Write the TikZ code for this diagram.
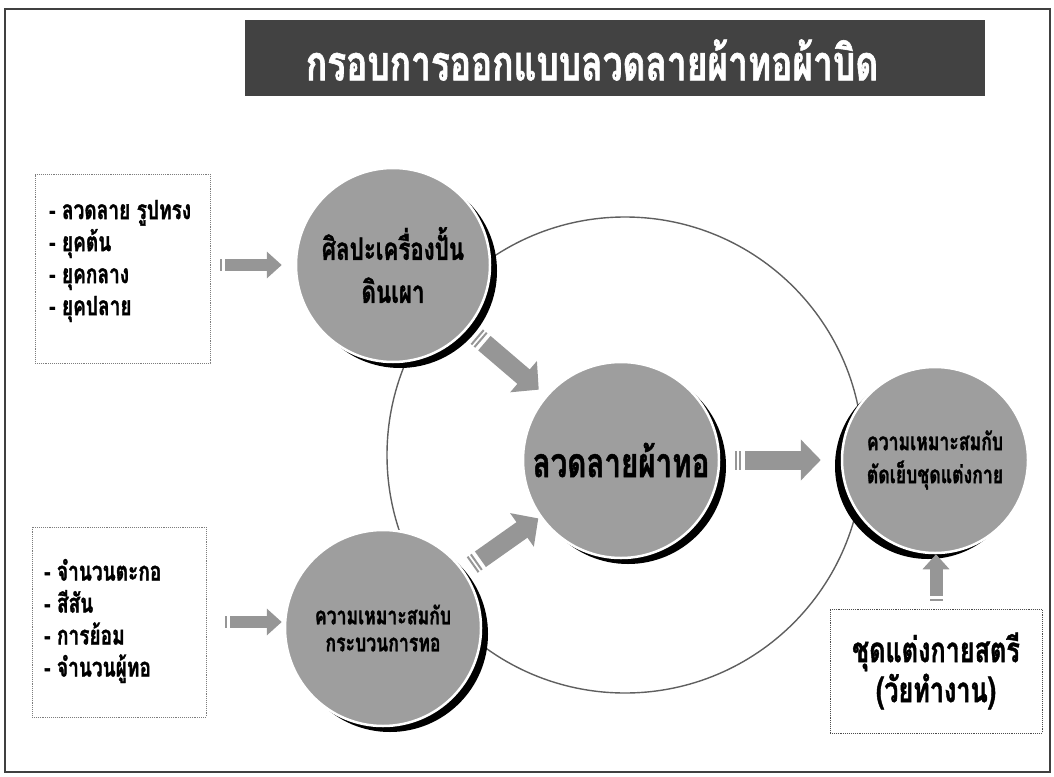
\documentclass[tikz,border=0pt]{standalone}
\usepackage{fontspec}
\newfontfamily\thaifont[Script=Thai,FakeStretch=0.72,BoldFeatures={FakeBold=1.2}]{Loma}
\usetikzlibrary{arrows.meta,shadows}
\definecolor{ballgray}{RGB}{158,158,158}
\definecolor{bargray}{RGB}{66,66,66}
\definecolor{arrowgray}{RGB}{150,150,150}
\definecolor{ringgray}{RGB}{95,95,95}
\definecolor{boxgray}{RGB}{125,125,125}

\begin{document}
\begin{tikzpicture}[x=1pt,y=-1pt,
    ball/.style={circle,fill=ballgray,draw=white,line width=2.5pt,inner sep=0pt,align=center},
    shadowr/.style={drop shadow={shadow xshift=7pt,shadow yshift=-6pt,fill=black,opacity=1}},
    shadowl/.style={drop shadow={shadow xshift=-7pt,shadow yshift=-6pt,fill=black,opacity=1}},
    listbox/.style={draw=boxgray,densely dotted,line width=0.9pt,inner sep=0pt},
    listtext/.style={align=left,inner sep=0pt,font=\thaifont\bfseries\fontsize{26.5}{32}\selectfont},
    bigarrow/.style={draw=arrowgray,line width=19pt,
      dash pattern=on 2pt off 2pt on 2pt off 4pt on 600pt off 10pt,
      -{Triangle[length=20pt,width=40pt]}},
    smallarrow/.style={draw=arrowgray,line width=12pt,
      dash pattern=on 2pt off 3pt on 600pt off 10pt,
      -{Triangle[length=15pt,width=26pt]}}]
  \useasboundingbox (0,0) rectangle (1054,776);
  % frame and title
  \draw[line width=1.2pt,black!75] (5,9) rectangle (1050,772);
  \node[fill=bargray,minimum width=740pt,minimum height=76pt,inner sep=0pt] (titlebar) at (615,58) {};
  \node[text=white,inner sep=0pt,font=\thaifont\bfseries\fontsize{49}{55}\selectfont]
    (title) at (592,60) {กรอบการออกแบบลวดลายผ้าทอผ้าบิด};
  % ring behind the balls
  \node[circle,draw=ringgray,line width=1.4pt,minimum size=476pt] (ring) at (625,455) {};
  % balls
  \node[ball,shadowr,minimum size=194pt,font=\thaifont\bfseries\fontsize{31}{43}\selectfont]
    (pottery) at (393,265) {ศิลปะเครื่องปั้น\\ดินเผา};
  \node[ball,shadowr,minimum size=196pt,font=\thaifont\bfseries\fontsize{41}{44}\selectfont]
    (pattern) at (621,460) {ลวดลายผ้าทอ};
  \node[ball,shadowl,minimum size=186pt,font=\thaifont\bfseries\fontsize{24.5}{33}\selectfont]
    (tailor) at (935,460) {ความเหมาะสมกับ\\ตัดเย็บชุดแต่งกาย};
  \node[ball,shadowr,minimum size=196pt,font=\thaifont\bfseries\fontsize{24.5}{27}\selectfont]
    (weaving) at (383,628) {ความเหมาะสมกับ\\กระบวนการทอ};
  % input boxes
  \node[listbox,minimum width=175pt,minimum height=189pt] (potbox) at (122.5,268.5) {};
  \node[listtext,anchor=west] (potlist) at (49,261)
    {- ลวดลาย รูปทรง\\- ยุคต้น\\- ยุคกลาง\\- ยุคปลาย};
  \node[listbox,minimum width=174pt,minimum height=190pt] (weavebox) at (119,622) {};
  \node[listtext,anchor=west] (weavelist) at (44,621)
    {- จำนวนตะกอ\\- สีสัน\\- การย้อม\\- จำนวนผู้ทอ};
  \node[listbox,draw=black!70,minimum width=212pt,minimum height=124pt,align=center,
    font=\thaifont\bfseries\fontsize{35}{40}\selectfont] (dressbox) at (936,671)
    {ชุดแต่งกายสตรี\\(วัยทำงาน)};
  % arrows
  \draw[smallarrow,shorten <=10pt,shorten >=13pt] (potbox.east |- pottery) -- (pottery.west);
  \draw[smallarrow,shorten <=19pt,shorten >=2pt] (weavebox.east) -- (weavebox.east -| weaving.west);
  \draw[bigarrow,shorten <=12pt,shorten >=9pt] (pottery) -- (pattern);
  \draw[bigarrow,shorten <=10pt,shorten >=2pt] (weaving) -- (pattern);
  \draw[bigarrow,shorten <=15pt,shorten >=20pt] (pattern) -- (tailor);
  \draw[smallarrow,line width=13pt,shorten <=8pt] (dressbox.north) -- (dressbox.north |- tailor.south);
\end{tikzpicture}
\end{document}
